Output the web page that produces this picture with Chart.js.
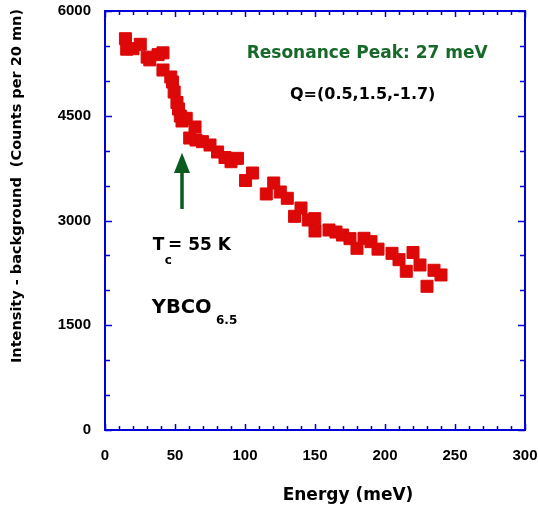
<!DOCTYPE html>
<html>
<head>
<meta charset="utf-8">
<script src="https://cdn.jsdelivr.net/npm/chart.js@4.4.1/dist/chart.umd.min.js"></script>
<style>
  html, body { margin: 0; padding: 0; background: #fff; }
  #wrap { width: 538px; height: 508px; }
</style>
</head>
<body>
<div id="wrap"><canvas id="resonanceChart"></canvas></div>
<script>
// energy transfer (meV) and intensity minus background (counts per 20 mn)
var energy = [14.6, 15.5, 20, 25.2, 30.1, 32, 37.9, 41.4, 41.4, 47, 48.2, 49.4, 51.4, 52.5,
    53.8, 55, 58, 60.5, 64.3, 65, 69.6, 75, 80.4, 85.7, 90, 94.6, 100.4, 105.4,
    115.2, 120.5, 125.2, 130.2, 135.4, 140, 145.2, 149.8, 150, 160, 165, 169.6,
    175, 180, 185, 190, 195, 205, 210, 215.2, 220, 225, 230, 235, 240];
var counts = [5603, 5453, 5460, 5523, 5339, 5300, 5375, 5401, 5155, 5055, 4983, 4840, 4690, 4597,
    4496, 4425, 4463, 4181, 4339, 4153, 4129, 4081, 3981, 3902, 3842, 3890, 3573, 3680,
    3380, 3537, 3408, 3318, 3060, 3179, 3007, 3026, 2850, 2864, 2835, 2792,
    2740, 2602, 2745, 2697, 2590, 2530, 2439, 2273, 2542, 2363, 2058, 2287, 2220];

var xTicks = [0, 50, 100, 150, 200, 250, 300];
var yTicks = [0, 1500, 3000, 4500, 6000];
var xMinorStep = 10;
var yMinorStep = 500;

var axisBlue = '#0000d8';
var pointRed = '#dd0808';
var textGreen = '#17692a';
var arrowGreen = '#0b5a1e';
var titleFont = 'bold 17px "DejaVu Sans"';

var points = energy.map(function (e, i) { return { x: e, y: counts[i] }; });

// frame, inward ticks, labels and arrow, all placed through the chart scales
var framePlugin = {
    id: 'frame',
    afterDraw: function (chart) {
        var ctx = chart.ctx;
        var a = chart.chartArea;
        var sx = chart.scales.x, sy = chart.scales.y;
        ctx.save();
        ctx.strokeStyle = axisBlue;
        ctx.lineWidth = 2;
        ctx.strokeRect(a.left, a.top, a.right - a.left, a.bottom - a.top);

        ctx.lineWidth = 1.5;
        ctx.beginPath();
        for (var v = sx.min; v <= sx.max; v += xMinorStep) {
            var px = Math.round(sx.getPixelForValue(v)) + 0.5;
            var len = (v % 50 === 0) ? 6 : 4;
            ctx.moveTo(px, a.bottom); ctx.lineTo(px, a.bottom - len);
            ctx.moveTo(px, a.top); ctx.lineTo(px, a.top + len);
        }
        for (var w = sy.min; w <= sy.max; w += yMinorStep) {
            var py = Math.round(sy.getPixelForValue(w)) + 0.5;
            var l2 = (w % 1500 === 0) ? 7 : 5;
            ctx.moveTo(a.left, py); ctx.lineTo(a.left + l2, py);
            ctx.moveTo(a.right, py); ctx.lineTo(a.right - l2, py);
        }
        ctx.stroke();

        // arrow at Tc
        var ax = sx.getPixelForValue(55);
        var tip = sy.getPixelForValue(3971);
        var base = sy.getPixelForValue(3680);
        var tail = sy.getPixelForValue(3165);
        ctx.fillStyle = arrowGreen;
        ctx.fillRect(ax - 1.75, base - 1, 3.5, tail - base + 1);
        ctx.beginPath();
        ctx.moveTo(ax, tip);
        ctx.lineTo(ax + 8, base);
        ctx.lineTo(ax - 8, base);
        ctx.closePath();
        ctx.fill();

        // annotations
        ctx.textAlign = 'left';
        ctx.textBaseline = 'alphabetic';
        ctx.font = titleFont;
        ctx.fillStyle = textGreen;
        ctx.fillText('Resonance Peak: 27 meV', sx.getPixelForValue(101.2), sy.getPixelForValue(5323));
        ctx.fillStyle = '#000';
        ctx.font = 'bold 16px "DejaVu Sans"';
        ctx.fillText('Q=(0.5,1.5,-1.7)', sx.getPixelForValue(132.1), sy.getPixelForValue(4733));
        ctx.font = titleFont;
        ctx.fillText('T', sx.getPixelForValue(34.1), sy.getPixelForValue(2573));
        ctx.fillText('= 55 K', sx.getPixelForValue(45), sy.getPixelForValue(2573));
        ctx.font = 'bold 12px "DejaVu Sans"';
        ctx.fillText('c', sx.getPixelForValue(42.6), sy.getPixelForValue(2377));
        ctx.font = 'bold 19.5px "DejaVu Sans"';
        ctx.fillText('YBCO', sx.getPixelForValue(33.4), sy.getPixelForValue(1675));
        ctx.font = 'bold 12px "DejaVu Sans"';
        ctx.fillText('6.5', sx.getPixelForValue(79.3), sy.getPixelForValue(1511));

        // axis titles
        ctx.font = titleFont;
        ctx.textAlign = 'center';
        ctx.fillText('Energy (meV)', 348, 500);
        ctx.translate(17, 186);
        ctx.rotate(-Math.PI / 2);
        ctx.textBaseline = 'middle';
        ctx.font = 'bold 14.5px "DejaVu Sans"';
        ctx.fillText('Intensity - background  (Counts per 20 mn)', 0, 0);
        ctx.restore();
    }
};

var ctx = document.getElementById('resonanceChart');
var chart = new Chart(ctx, {
    type: 'scatter',
    data: {
        datasets: [
            {
                data: points,
                pointStyle: 'rect',
                pointRadius: 8.5,
                pointBackgroundColor: pointRed,
                pointBorderColor: pointRed,
                pointBorderWidth: 1
            }
        ]
    },
    options: {
        responsive: true,
        maintainAspectRatio: false,
        animation: false,
        layout: { padding: 0 },
        plugins: {
            legend: { display: false },
            tooltip: { enabled: false }
        },
        scales: {
            x: {
                type: 'linear',
                min: 0,
                max: 300,
                afterBuildTicks: function (s) { s.ticks = xTicks.map(function (v) { return { value: v }; }); },
                afterFit: function (s) {
                    s.height = 78;
                    s.paddingLeft = 0;
                    s.paddingRight = 13;
                },
                grid: { display: false, drawTicks: false },
                border: { display: false },
                ticks: {
                    padding: 17,
                    color: '#000',
                    maxRotation: 0,
                    callback: function (v) { return String(v); },
                    font: { family: 'Liberation Sans', weight: 'bold', size: 15 }
                }
            },
            y: {
                type: 'linear',
                min: 0,
                max: 6000,
                afterBuildTicks: function (s) { s.ticks = yTicks.map(function (v) { return { value: v }; }); },
                afterFit: function (s) {
                    s.width = 105;
                    s.paddingTop = 11;
                    s.paddingBottom = 0;
                },
                grid: { display: false, drawTicks: false },
                border: { display: false },
                ticks: {
                    padding: 14,
                    color: '#000',
                    callback: function (v) { return String(v); },
                    font: { family: 'Liberation Sans', weight: 'bold', size: 15 }
                }
            }
        }
    },
    plugins: [framePlugin]
});
</script>
</body>
</html>
